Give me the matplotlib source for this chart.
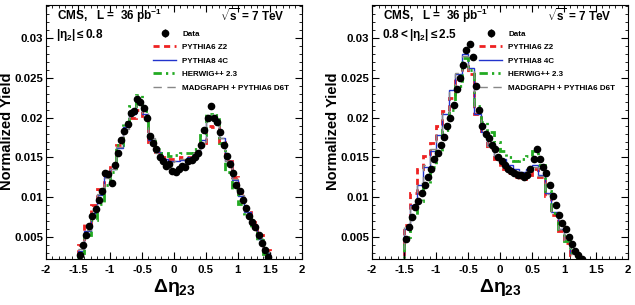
import numpy as np
import matplotlib.pyplot as plt

plt.rcParams['font.family'] = ['Liberation Sans', 'DejaVu Sans']
plt.rcParams['font.weight'] = 'bold'
plt.rcParams['mathtext.fontset'] = 'custom'
plt.rcParams['mathtext.rm'] = 'Liberation Sans'
plt.rcParams['mathtext.it'] = 'Liberation Sans'
plt.rcParams['mathtext.bf'] = 'Liberation Sans:bold'

# data: 0.05 wide bins from -1.5 to 1.5
# left: |eta2| <= 0.8
data_c = [0.0028, 0.0040, 0.0052, 0.0064, 0.0076, 0.0085, 0.0097, 0.0108, 0.0131, 0.0129,
          0.0118, 0.0140, 0.0155, 0.0172, 0.0183, 0.0192, 0.0206, 0.0208, 0.0223, 0.0220,
          0.0212, 0.0200, 0.0177, 0.0168, 0.0160, 0.0150, 0.0145, 0.0139, 0.0142, 0.0133,
          0.0132, 0.0136, 0.0139, 0.0138, 0.0145, 0.0147, 0.0150, 0.0155, 0.0166, 0.0185,
          0.0200, 0.0214, 0.0200, 0.0194, 0.0182, 0.0165, 0.0152, 0.0142, 0.0130, 0.0116,
          0.0108, 0.0097, 0.0087, 0.0076, 0.0069, 0.0062, 0.0053, 0.0042, 0.0034, 0.0025]
# right: 0.8 < |eta2| <= 2.5
data_f = [0.0048, 0.0063, 0.0075, 0.0088, 0.0095, 0.0105, 0.0116, 0.0126, 0.0135, 0.0148,
          0.0155, 0.0166, 0.0176, 0.0190, 0.0200, 0.0216, 0.0236, 0.0250, 0.0266, 0.0285,
          0.0293, 0.0276, 0.0240, 0.0210, 0.0190, 0.0180, 0.0175, 0.0166, 0.0160, 0.0150,
          0.0145, 0.0140, 0.0136, 0.0133, 0.0131, 0.0128, 0.0128, 0.0125, 0.0128, 0.0136,
          0.0148, 0.0161, 0.0148, 0.0138, 0.0130, 0.0115, 0.0102, 0.0090, 0.0078, 0.0068,
          0.0060, 0.0050, 0.0041, 0.0033, 0.0028, 0.0023, 0.0, 0.0, 0.0, 0.0]

# models: 0.1 wide bins from -1.5 to 1.5
z2_c = [0.0040, 0.0066, 0.0090, 0.0110, 0.0130, 0.0140, 0.0165, 0.0185, 0.0200, 0.0210,
        0.0198, 0.0170, 0.0157, 0.0150, 0.0148, 0.0148, 0.0150, 0.0151, 0.0155, 0.0168,
        0.0190, 0.0188, 0.0170, 0.0145, 0.0125, 0.0105, 0.0086, 0.0069, 0.0052, 0.0034]
p8_c = [0.0033, 0.0058, 0.0080, 0.0103, 0.0125, 0.0135, 0.0162, 0.0188, 0.0205, 0.0218,
        0.0205, 0.0172, 0.0157, 0.0148, 0.0145, 0.0146, 0.0147, 0.0150, 0.0155, 0.0172,
        0.0202, 0.0198, 0.0175, 0.0145, 0.0122, 0.0102, 0.0082, 0.0065, 0.0048, 0.0030]
hw_c = [0.0030, 0.0053, 0.0072, 0.0092, 0.0115, 0.0132, 0.0165, 0.0195, 0.0215, 0.0228,
        0.0208, 0.0175, 0.0160, 0.0155, 0.0152, 0.0153, 0.0155, 0.0156, 0.0160, 0.0178,
        0.0205, 0.0203, 0.0168, 0.0132, 0.0110, 0.0092, 0.0076, 0.0061, 0.0046, 0.0029]
mg_c = [0.0035, 0.0059, 0.0082, 0.0104, 0.0124, 0.0136, 0.0163, 0.0186, 0.0204, 0.0216,
        0.0206, 0.0174, 0.0156, 0.0147, 0.0144, 0.0145, 0.0148, 0.0151, 0.0156, 0.0170,
        0.0199, 0.0197, 0.0174, 0.0146, 0.0123, 0.0103, 0.0083, 0.0066, 0.0049, 0.0031]

z2_f = [0.0065, 0.0105, 0.0135, 0.0152, 0.0168, 0.0190, 0.0208, 0.0225, 0.0250, 0.0265,
        0.0255, 0.0205, 0.0180, 0.0162, 0.0148, 0.0135, 0.0130, 0.0125, 0.0123, 0.0128,
        0.0135, 0.0125, 0.0102, 0.0078, 0.0058, 0.0042, 0.0028, 0.0015, 0.0005, 0.0]
p8_f = [0.0060, 0.0090, 0.0115, 0.0138, 0.0158, 0.0178, 0.0205, 0.0235, 0.0255, 0.0280,
        0.0262, 0.0205, 0.0182, 0.0165, 0.0152, 0.0148, 0.0140, 0.0135, 0.0132, 0.0135,
        0.0140, 0.0128, 0.0105, 0.0082, 0.0060, 0.0045, 0.0030, 0.0018, 0.0008, 0.0]
hw_f = [0.0050, 0.0075, 0.0095, 0.0115, 0.0138, 0.0158, 0.0185, 0.0210, 0.0240, 0.0275,
        0.0260, 0.0215, 0.0195, 0.0182, 0.0170, 0.0158, 0.0150, 0.0145, 0.0148, 0.0152,
        0.0158, 0.0140, 0.0108, 0.0080, 0.0060, 0.0045, 0.0030, 0.0018, 0.0008, 0.0]
mg_f = [0.0062, 0.0092, 0.0118, 0.0140, 0.0160, 0.0180, 0.0206, 0.0232, 0.0256, 0.0278,
        0.0260, 0.0208, 0.0183, 0.0164, 0.0150, 0.0145, 0.0138, 0.0133, 0.0130, 0.0133,
        0.0138, 0.0127, 0.0104, 0.0081, 0.0060, 0.0044, 0.0029, 0.0017, 0.0007, 0.0]

xticks = [-2, -1.5, -1, -0.5, 0, 0.5, 1, 1.5, 2]
xticklabels = ['-2', '-1.5', '-1', '-0.5', '0', '0.5', '1', '1.5', '2']
yticks = [0.005, 0.01, 0.015, 0.02, 0.025, 0.03]
yticklabels = ['0.005', '0.01', '0.015', '0.02', '0.025', '0.03']

panels = [
    (data_c, z2_c, p8_c, hw_c, mg_c, r'$\mathbf{|\eta_2| \leq 0.8}$', 0.0724),
    (data_f, z2_f, p8_f, hw_f, mg_f, r'$\mathbf{0.8 < |\eta_2| \leq 2.5}$', 0.586),
]

fig = plt.figure(figsize=(6.35, 3.05), dpi=100)

edges_d = np.linspace(-1.5, 1.5, 61)
centers_d = 0.5 * (edges_d[:-1] + edges_d[1:])
edges_m = np.linspace(-1.5, 1.5, 31)

for data, z2, p8, hw, mg, region, left in panels:
    ax = fig.add_axes([left, 0.151, 0.403, 0.834])
    d = np.array(data)
    ax.stairs(z2, edges_m, color='#ee2222', lw=2, ls=(0, (2.2, 1.6)), label='PYTHIA6 Z2')
    ax.stairs(p8, edges_m, color='#2233cc', lw=1, label='PYTHIA8 4C')
    ax.stairs(hw, edges_m, color='#22aa22', lw=2, ls=(0, (3, 1.5, 0.8, 1.5, 0.8, 1.5)), label='HERWIG++ 2.3')
    ax.stairs(mg, edges_m, color='#888888', lw=1, ls=(0, (6, 4)), label='MADGRAPH + PYTHIA6 D6T')
    mask = d > 0
    ax.errorbar(centers_d[mask], d[mask], yerr=0.00035, fmt='o', color='black', ms=4.5,
                elinewidth=1, capsize=0, label='Data', zorder=5)

    ax.set_xlim(-2, 2)
    ax.set_ylim(0.00225, 0.0342)
    ax.set_xticks(xticks)
    ax.set_xticklabels(xticklabels)
    ax.set_yticks(yticks)
    ax.set_yticklabels(yticklabels)
    ax.set_xticks(np.arange(-2, 2.01, 0.1), minor=True)
    ax.set_yticks(np.arange(0.003, 0.0342, 0.001), minor=True)
    ax.tick_params(which='both', direction='in', top=True, right=True, labelsize=8.2)
    ax.tick_params(axis='y', pad=2)
    ax.tick_params(axis='x', pad=4)
    ax.tick_params(which='major', length=5)
    ax.tick_params(which='minor', length=2.5)
    for lab in ax.get_xticklabels() + ax.get_yticklabels():
        lab.set_fontweight('bold')
    ax.set_ylabel('Normalized Yield', fontsize=10.5, fontweight='bold')
    ax.yaxis.set_label_coords(-0.125, 0.503)
    ax.set_xlabel(r'$\Delta\eta_{\mathbf{23}}$', fontsize=14, labelpad=2)

    ax.text(0.043, 0.955, r'CMS,   L =  36 pb$^{\mathbf{-1}}$', transform=ax.transAxes,
            fontsize=8.5, fontweight='bold', va='center', ha='left')
    ax.text(0.934, 0.955, r'$\mathbf{\sqrt{s}}$ = 7 TeV', transform=ax.transAxes,
            fontsize=8.5, fontweight='bold', va='center', ha='right')
    ax.text(0.038, 0.88, region, transform=ax.transAxes, fontsize=8.5, va='center', ha='left')

    handles, labels = ax.get_legend_handles_labels()
    order = [4, 0, 1, 2, 3]
    leg = ax.legend([handles[i] for i in order], [labels[i] for i in order],
                    loc='upper left', bbox_to_anchor=(0.405, 0.912), frameon=False,
                    fontsize=5.8, handlelength=2.9, handletextpad=0.75, labelspacing=0.72,
                    borderaxespad=0)
    for t in leg.get_texts():
        t.set_fontweight('bold')

fig.savefig('out.png', dpi=100)
